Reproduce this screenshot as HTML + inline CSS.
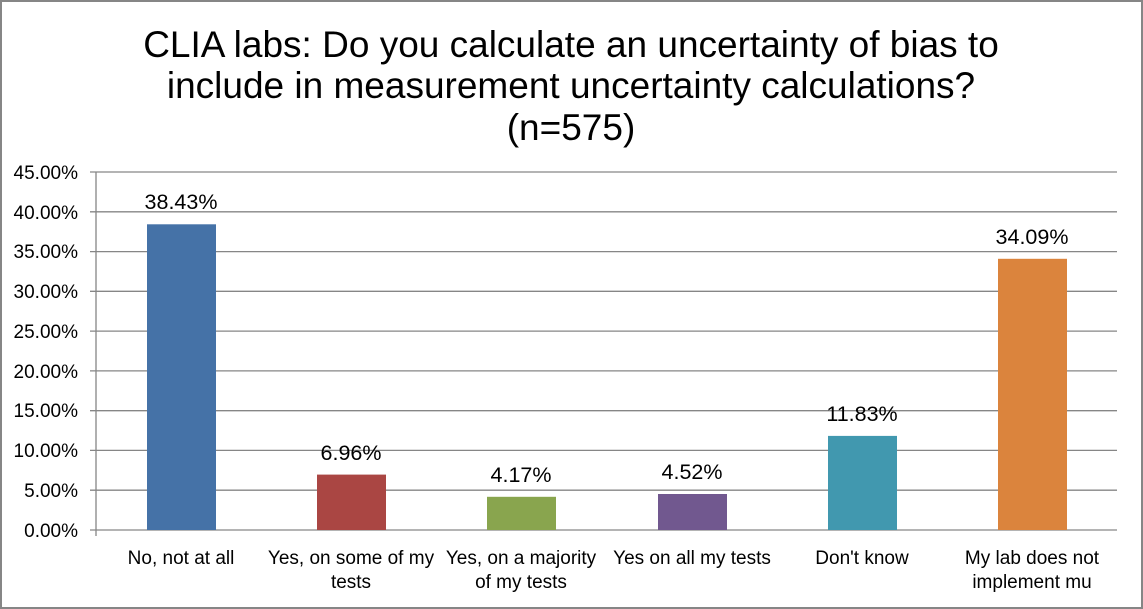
<!DOCTYPE html>
<html><head><style>
body{margin:0;background:#fff}
svg{display:block}
text{font-family:"Liberation Sans",sans-serif;fill:#000}
</style></head><body>
<svg width="1143" height="609" viewBox="0 0 1143 609">
<rect x="1" y="1" width="1141" height="607" fill="#fff" stroke="#868686" stroke-width="2"/>
<g font-size="37" text-anchor="middle">
<text x="571" y="57">CLIA labs: Do you calculate an uncertainty of bias to</text>
<text x="571" y="98">include in measurement uncertainty calculations?</text>
<text x="571" y="140">(n=575)</text>
</g>
<g stroke="#868686" stroke-width="1.3">
<line x1="90" y1="172" x2="1117" y2="172"/>
<line x1="90" y1="211.8" x2="1117" y2="211.8"/>
<line x1="90" y1="251.6" x2="1117" y2="251.6"/>
<line x1="90" y1="291.3" x2="1117" y2="291.3"/>
<line x1="90" y1="331.1" x2="1117" y2="331.1"/>
<line x1="90" y1="370.9" x2="1117" y2="370.9"/>
<line x1="90" y1="410.7" x2="1117" y2="410.7"/>
<line x1="90" y1="450.4" x2="1117" y2="450.4"/>
<line x1="90" y1="490.2" x2="1117" y2="490.2"/>
<line x1="90" y1="530" x2="1117" y2="530"/>
<line x1="96" y1="172" x2="96" y2="536"/>
</g>
<g font-size="19" text-anchor="end">
<text x="78" y="179">45.00%</text>
<text x="78" y="219">40.00%</text>
<text x="78" y="258">35.00%</text>
<text x="78" y="298">30.00%</text>
<text x="78" y="338">25.00%</text>
<text x="78" y="378">20.00%</text>
<text x="78" y="417">15.00%</text>
<text x="78" y="457">10.00%</text>
<text x="78" y="497">5.00%</text>
<text x="78" y="537">0.00%</text>
</g>
<rect x="147" y="224.3" width="69" height="305.7" fill="#4572A7"/>
<rect x="317" y="474.6" width="69" height="55.4" fill="#AA4643"/>
<rect x="487" y="496.8" width="69" height="33.2" fill="#89A54E"/>
<rect x="658" y="494" width="69" height="36" fill="#71588F"/>
<rect x="828" y="435.9" width="69" height="94.1" fill="#4198AF"/>
<rect x="998" y="258.8" width="69" height="271.2" fill="#DB843D"/>
<g font-size="21.5" text-anchor="middle">
<text x="181" y="209">38.43%</text>
<text x="351" y="460">6.96%</text>
<text x="521" y="482">4.17%</text>
<text x="692" y="479">4.52%</text>
<text x="862" y="421">11.83%</text>
<text x="1032" y="244">34.09%</text>
</g>
<g font-size="19" text-anchor="middle">
<text x="181" y="564">No, not at all</text>
<text x="351" y="564">Yes, on some of my</text>
<text x="351" y="588">tests</text>
<text x="521" y="564">Yes, on a majority</text>
<text x="521" y="588">of my tests</text>
<text x="692" y="564">Yes on all my tests</text>
<text x="862" y="564">Don't know</text>
<text x="1032" y="564">My lab does not</text>
<text x="1032" y="588">implement mu</text>
</g>
</svg>
</body></html>
